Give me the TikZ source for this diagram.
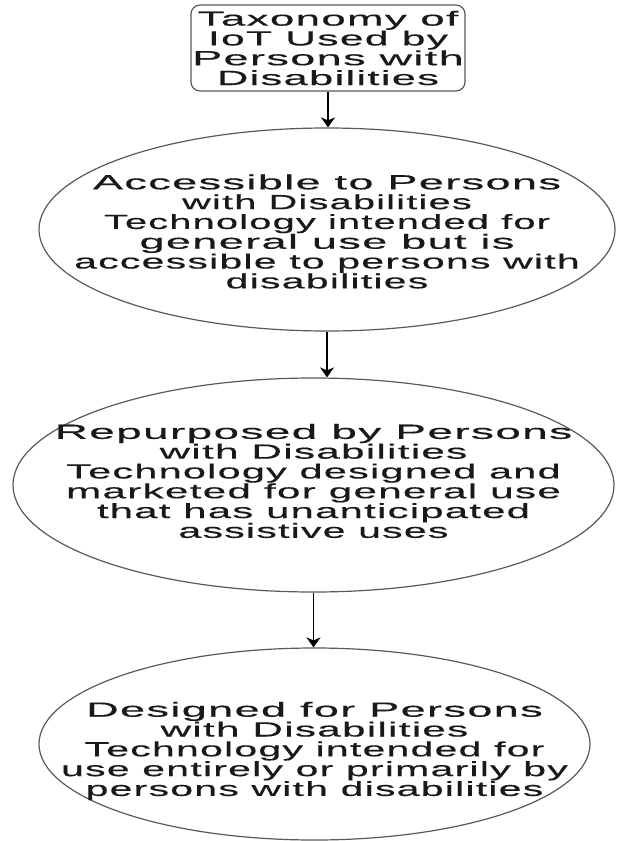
\documentclass[tikz,border=0pt]{standalone}
\usepackage{fontspec}
\usepackage{graphicx}
\usetikzlibrary{shapes.geometric,arrows.meta}
\newfontfamily\diafont{Liberation Sans}[FakeStretch=2.0,LetterSpace=6,FakeBold=0.4]
\newcommand{\wl}[2]{\scalebox{#1}[1]{#2}}
\tikzset{
  outl/.style={draw=black!65, line width=1.2pt},
  topbox/.style={outl, rectangle, rounded corners=9pt, minimum width=274pt, minimum height=86pt, inner sep=0pt},
  ell/.style={outl, ellipse, inner sep=0pt},
  txt/.style={align=center, inner sep=0pt, text=black!90, font=\diafont\fontsize{20.5}{19.8}\selectfont},
  arr/.style={draw=black, line width=1.9pt, -{Stealth[length=10pt,width=14pt,inset=3pt]}}
}
\begin{document}
\begin{tikzpicture}[x=1pt,y=-1pt]
\useasboundingbox (0,0) rectangle (617,841);
\node[topbox] (top) at (328,48) {};
\node[txt] (toptxt) at (top.center) {\wl{1.07}{Taxonomy of}\\\wl{1.04}{IoT Used by}\\\wl{1.1}{Persons with}\\\wl{1.06}{Disabilities}};
\node[ell, minimum width=576pt, minimum height=203pt] (e1) at (327,229.5) {};
\node[txt] (e1txt) at ([yshift=-2pt]e1.center) {\wl{1.1}{Accessible to Persons}\\\wl{0.97}{with Disabilities}\\\wl{0.97}{Technology intended for}\\\wl{1.1}{general use but is}\\accessible to persons with\\disabilities};
\node[ell, minimum width=601pt, minimum height=214pt] (e2) at (313.5,485) {};
\node[txt] (e2txt) at ([yshift=4pt]e2.center) {\wl{1.12}{Repurposed by Persons}\\\wl{1.03}{with Disabilities}\\\wl{1.01}{Technology designed and}\\\wl{1.03}{marketed for general use}\\\wl{1.02}{that has unanticipated}\\assistive uses};
\node[ell, minimum width=551pt, minimum height=192pt] (e3) at (314.5,744) {};
\node[txt] (e3txt) at ([yshift=-7pt]e3.center) {\wl{1.1}{Designed for Persons}\\\wl{1.03}{with Disabilities}\\Technology intended for\\use entirely or primarily by\\persons with disabilities};
\draw[arr] (top.south) -- (top.south |- e1.north);
\draw[arr] (e1.south) -- (e1.south |- e2.north);
\draw[arr] (e2.south) -- (e2.south |- e3.north);
\end{tikzpicture}
\end{document}
